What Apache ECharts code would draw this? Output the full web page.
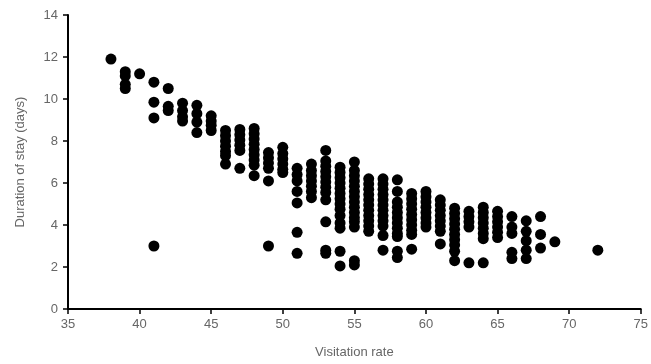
<!DOCTYPE html>
<html>
<head>
<meta charset="utf-8">
<script src="https://cdn.jsdelivr.net/npm/echarts@6/dist/echarts.min.js"></script>
<style>html,body{margin:0;padding:0;background:#fff;}#c{width:651px;height:364px;}</style>
</head>
<body>
<div id="c"></div>
<script>
// Visitation rate (x) for each column of points
var visitationRates = [38, 39, 40, 41, 42, 43, 44, 45, 46, 47, 48, 49, 50, 51, 52, 53, 54, 55, 56, 57, 58, 59, 60, 61, 62, 63, 64, 65, 66, 67, 68, 69, 72];
// Duration of stay (days) values at each visitation rate
var durations = [
  [11.9],
  [11.3, 11.1, 10.7, 10.5],
  [11.2],
  [10.8, 9.85, 9.1, 3.0],
  [10.5, 9.65, 9.45],
  [9.8, 9.45, 9.15, 8.95],
  [9.7, 9.3, 8.9, 8.4],
  [9.2, 8.95, 8.75, 8.5],
  [8.5, 8.25, 8.0, 7.75, 7.5, 7.3, 6.9],
  [8.55, 8.3, 8.05, 7.8, 7.55, 6.7],
  [8.6, 8.35, 8.1, 7.85, 7.6, 7.35, 7.1, 6.85, 6.35],
  [7.45, 7.2, 6.95, 6.7, 6.1, 3.0],
  [7.7, 7.4, 7.15, 6.9, 6.65, 6.5],
  [6.7, 6.4, 6.1, 5.6, 5.05, 3.65, 2.65],
  [6.9, 6.6, 6.35, 6.1, 5.85, 5.6, 5.3],
  [7.55, 7.05, 6.8, 6.55, 6.3, 6.05, 5.8, 5.55, 5.2, 4.15, 2.8, 2.65],
  [6.75, 6.5, 6.25, 6.0, 5.75, 5.5, 5.25, 5.0, 4.75, 4.45, 4.1, 3.85, 2.75, 2.05],
  [7.0, 6.6, 6.35, 6.1, 5.85, 5.6, 5.35, 5.1, 4.85, 4.6, 4.35, 4.15, 3.9, 2.3, 2.1],
  [6.2, 5.95, 5.7, 5.45, 5.2, 4.95, 4.7, 4.45, 4.2, 3.95, 3.7],
  [6.2, 5.95, 5.7, 5.45, 5.2, 4.95, 4.7, 4.45, 4.2, 3.95, 3.5, 2.8],
  [6.15, 5.6, 5.1, 4.85, 4.6, 4.35, 4.1, 3.85, 3.6, 3.45, 2.75, 2.45],
  [5.5, 5.25, 5.0, 4.75, 4.5, 4.25, 4.0, 3.75, 3.55, 2.85],
  [5.6, 5.35, 5.1, 4.85, 4.6, 4.35, 4.1, 3.9],
  [5.2, 4.95, 4.7, 4.45, 4.2, 3.95, 3.7, 3.1],
  [4.8, 4.55, 4.3, 4.05, 3.8, 3.55, 3.3, 3.05, 2.75, 2.3],
  [4.65, 4.4, 4.15, 3.9, 2.2],
  [4.85, 4.6, 4.35, 4.1, 3.85, 3.6, 3.35, 2.2],
  [4.65, 4.4, 4.15, 3.9, 3.65, 3.4],
  [4.4, 3.9, 3.6, 2.7, 2.4],
  [4.2, 3.7, 3.25, 2.8, 2.4],
  [4.4, 3.55, 2.9],
  [3.2],
  [2.8]
];
var xTicks = [35, 40, 45, 50, 55, 60, 65, 70, 75];
var yTicks = [0, 2, 4, 6, 8, 10, 12, 14];

var points = [];
visitationRates.forEach(function (x, i) {
  durations[i].forEach(function (y) { points.push([x, y]); });
});

var chart = echarts.init(document.getElementById('c'), null, {renderer: 'canvas'});
var labelStyle = {color: '#666', fontSize: 13, fontFamily: 'Liberation Sans, Arial, sans-serif'};
chart.setOption({
  animation: false,
  backgroundColor: '#fff',
  grid: {left: 68, right: 9, top: 15, bottom: 53, containLabel: false},
  xAxis: {
    type: 'value',
    min: xTicks[0], max: xTicks[xTicks.length - 1], interval: 5,
    name: 'Visitation rate', nameLocation: 'middle', nameGap: 37,
    nameTextStyle: {color: '#666', fontSize: 13, fontFamily: 'Liberation Sans, Arial, sans-serif'},
    axisLine: {show: true, onZero: false, lineStyle: {color: '#000', width: 2}},
    axisTick: {show: true, length: 5, lineStyle: {color: '#000', width: 1.5}},
    axisLabel: Object.assign({margin: 9}, labelStyle),
    splitLine: {show: false}
  },
  yAxis: {
    type: 'value',
    min: yTicks[0], max: yTicks[yTicks.length - 1], interval: 2,
    name: 'Duration of stay (days)', nameLocation: 'middle', nameGap: 41,
    nameTextStyle: {color: '#666', fontSize: 13, fontFamily: 'Liberation Sans, Arial, sans-serif'},
    axisLine: {show: true, lineStyle: {color: '#000', width: 2}},
    axisTick: {show: true, length: 5, lineStyle: {color: '#000', width: 1.5}},
    axisLabel: Object.assign({margin: 10}, labelStyle),
    splitLine: {show: false}
  },
  series: [{
    type: 'scatter',
    data: points,
    symbol: 'circle',
    symbolSize: 11,
    itemStyle: {color: '#000', opacity: 1}
  }]
});
</script>
</body>
</html>
